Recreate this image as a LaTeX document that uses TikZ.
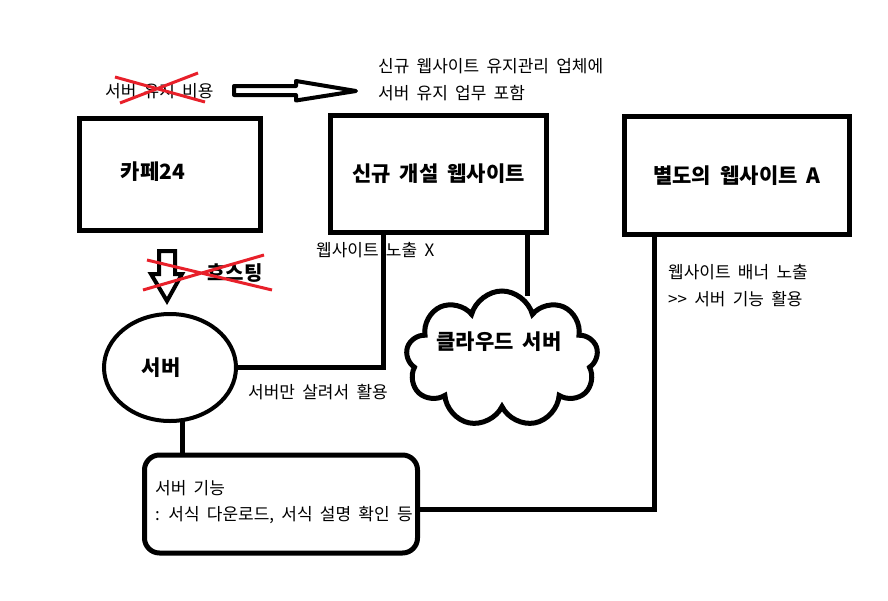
\documentclass[tikz,border=0pt]{standalone}
\usepackage{fontspec}
\setmainfont[WordSpace=1.9]{Noto Sans CJK KR}
\usetikzlibrary{shapes.geometric,shapes.symbols}
\definecolor{xred}{HTML}{E8202A}
\begin{document}
\begin{tikzpicture}[x=1pt,y=-1pt,
    box/.style={draw,line width=5pt,inner sep=0pt,outer sep=0pt},
    wire/.style={line width=5pt},
    cross/.style={draw=xred,line width=3pt},
    txt/.style={anchor=west,inner sep=0pt,font=\fontsize{17}{20}\selectfont},
    bold/.style={inner sep=0pt,font=\fontsize{21}{24}\selectfont\bfseries}]
    \useasboundingbox (0,0) rectangle (888,600);
    \fill[white] (0,0) rectangle (888,600);
    \node[box,minimum width=181pt,minimum height=112pt] (cafe) at (170,174.5) {};
    \node[bold] (cafetxt) at (153,172) {카페24};
    \node[box,bold,minimum width=216pt,minimum height=117pt] (newsite) at (438.5,174) {신규 개설 웹사이트};
    \node[box,bold,minimum width=225pt,minimum height=118pt] (siteA) at (737,175.5) {별도의 웹사이트 A};
    \node[ellipse,draw,line width=4pt,minimum width=132pt,minimum height=107pt,inner sep=0pt] (server) at (170,367.5) {};
    \node[bold] (servertxt) at (161,368) {서버};
    \node[cloud,draw,line width=5pt,cloud puffs=9,minimum width=192pt,minimum height=136pt,inner sep=0pt] (cloudsrv) at (502,359) {};
    \node[bold] (cloudtxt) at (499,342) {클라우드 서버};
    \node[draw,line width=5pt,rounded corners=15pt,minimum width=273pt,minimum height=98pt,inner sep=0pt] (func) at (281,504) {};
    \node[txt] (func1) at (155,488) {서버 기능};
    \node[txt] (func2) at (155,515) {: 서식 다운로드, 서식 설명 확인 등};
    \node[txt] (costtxt) at (105,91) {서버 유지 비용};
    \node[txt] (note1) at (378,66) {신규 웹사이트 유지관리 업체에};
    \node[txt] (note2) at (378,93) {서버 유지 업무 포함};
    \node[txt] (hide) at (316,250) {웹사이트 노출 X};
    \node[txt] (alive) at (248,392) {서버만 살려서 활용};
    \node[txt] (banner1) at (668,272) {웹사이트 배너 노출};
    \node[txt] (banner2) at (668,299) {>{}> 서버 기능 활용};
    \node[bold,anchor=west,font=\fontsize{20}{23}\selectfont\bfseries] (hosttxt) at (207,273) {호스팅};
    \coordinate (j1) at (383,232);
    \coordinate (j2) at (527,232);
    \coordinate (j3) at (527,296);
    \coordinate (j4) at (182,420);
    \coordinate (j5) at (182,455);
    \coordinate (j6) at (654,234);
    \draw[wire] (server.east) -| (j1);
    \draw[wire] (j2) -- (j3);
    \draw[wire] (j4) -- (j5);
    \draw[wire] ([yshift=-5pt]func.east) -| (j6);
    \draw[line width=4pt,line join=round] (234,86) -- (296,86) -- (296,81) -- (356,91) -- (296,100.5) -- (296,95) -- (234,95) -- cycle;
    \draw[line width=4pt] (159,251) -- (175,251) -- (175,274) -- (182,274) -- (167,301) -- (151,274) -- (159,274) -- cycle;
    \draw[cross] (115,77) -- (205,102) (120,103) -- (198,73);
    \draw[cross] (147,260) -- (272,290) (143,290) -- (264,255);
\end{tikzpicture}
\end{document}
